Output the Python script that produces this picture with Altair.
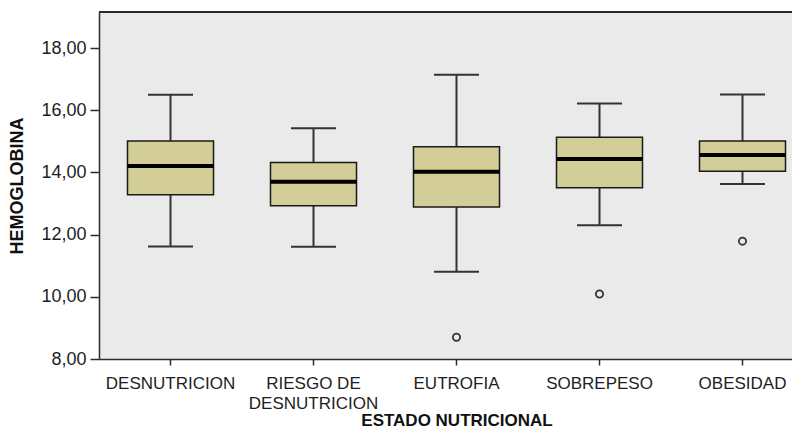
import altair as alt
import pandas as pd

categories = ["DESNUTRICION", "RIESGO DE DESNUTRICION", "EUTROFIA", "SOBREPESO", "OBESIDAD"]
lower = [11.62, 11.61, 10.81, 12.30, 13.63]
q1 = [13.28, 12.93, 12.89, 13.51, 14.04]
median = [14.21, 13.70, 14.02, 14.43, 14.56]
q3 = [15.01, 14.32, 14.83, 15.13, 15.01]
upper = [16.50, 15.42, 17.14, 16.22, 16.51]

outlier_cats = ["EUTROFIA", "SOBREPESO", "OBESIDAD"]
outlier_vals = [8.70, 10.09, 11.79]

y_ticks = [8, 10, 12, 14, 16, 18]

stats = pd.DataFrame({
    "cat": categories, "lower": lower, "q1": q1,
    "median": median, "q3": q3, "upper": upper,
})
outs = pd.DataFrame({"cat": outlier_cats, "val": outlier_vals})

W, H = 693, 347

xscale = alt.Scale(domain=categories, range=[0, 715], paddingInner=0, paddingOuter=0)
yscale = alt.Scale(domain=[8, 19.16], nice=False, zero=False)

xenc = alt.X(
    "cat:N", scale=xscale, sort=categories,
    axis=alt.Axis(
        title="ESTADO NUTRICIONAL",
        labelAngle=0, labelAlign="center", labelBaseline="top",
        labelExpr="datum.label == 'RIESGO DE DESNUTRICION' ? ['RIESGO DE', 'DESNUTRICION'] : datum.label",
        labelLineHeight=20, labelPadding=10, tickSize=6, titlePadding=1,
        titleFontSize=17,
    ),
)
yaxis = alt.Axis(
    title="HEMOGLOBINA", values=y_ticks,
    labelExpr="replace(format(datum.value, '.2f'), '.', ',')",
    tickSize=9, labelPadding=4, titlePadding=14, grid=False, labelFontSize=18,
)

base = alt.Chart(stats)

whisker = base.mark_rule(color="#333333", strokeWidth=2).encode(
    x=xenc,
    y=alt.Y("lower:Q", scale=yscale, axis=yaxis),
    y2="upper:Q",
)
cap_low = base.mark_tick(color="#333333", size=45, thickness=2, orient="horizontal", opacity=1).encode(
    x=alt.X("cat:N", scale=xscale, sort=categories), y=alt.Y("lower:Q", scale=yscale)
)
cap_high = base.mark_tick(color="#333333", size=45, thickness=2, orient="horizontal", opacity=1).encode(
    x=alt.X("cat:N", scale=xscale, sort=categories), y=alt.Y("upper:Q", scale=yscale)
)
box = base.mark_bar(size=86, fill="#D3CE98", stroke="#1a1a1a", strokeWidth=1.5, opacity=1).encode(
    x=alt.X("cat:N", scale=xscale, sort=categories),
    y=alt.Y("q1:Q", scale=yscale), y2="q3:Q",
)
med = base.mark_tick(color="#000000", size=86, thickness=4, orient="horizontal", opacity=1).encode(
    x=alt.X("cat:N", scale=xscale, sort=categories), y=alt.Y("median:Q", scale=yscale)
)
pts = alt.Chart(outs).mark_point(
    shape="circle", size=52, filled=False, stroke="#333333", strokeWidth=1.8, opacity=1
).encode(
    x=alt.X("cat:N", scale=xscale, sort=categories), y=alt.Y("val:Q", scale=yscale)
)
top_border = alt.Chart(stats).mark_rule(color="#2b2b2b", strokeWidth=1.5).encode(
    x=alt.value(0), x2=alt.value(W), y=alt.value(0)
)

chart = alt.layer(whisker, cap_low, cap_high, box, med, pts, top_border).properties(
    width=W, height=H,
    autosize=alt.AutoSizeParams(type="none"),
    padding={"left": 91, "top": 4, "right": 0, "bottom": 71},
    background="#FFFFFF",
).configure_view(
    fill="#EAEAEA", strokeWidth=0,
).configure_axis(
    labelFont="Liberation Sans", titleFont="Liberation Sans",
    labelFontSize=17, titleFontSize=18, titleFontWeight="bold",
    labelColor="#1e1e1e", titleColor="#111111",
    domainColor="#2b2b2b", domainWidth=1.5,
    tickColor="#2b2b2b", tickWidth=1.5,
)

chart.save("out.html", embed_options={"renderer": "svg", "actions": False})
